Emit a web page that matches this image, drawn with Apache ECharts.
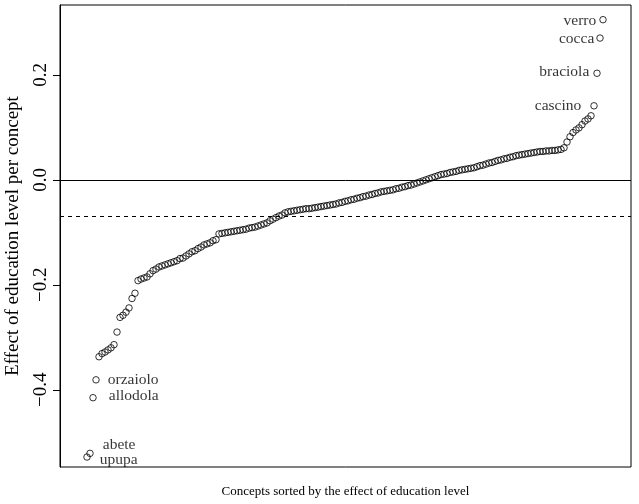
<!DOCTYPE html>
<html><head><meta charset="utf-8">
<script src="https://cdn.jsdelivr.net/npm/echarts@6/dist/echarts.min.js"></script>
<style>html,body{margin:0;padding:0;background:#fff}#c{width:639px;height:504px}</style>
</head><body><div id="c"></div>
<script>
// Effect of education level per concept, sorted ascending (one value per concept)
const effects = [
-0.528,-0.521,-0.415,-0.381,-0.337,-0.331,-0.328,-0.324,-0.320,-0.314,
-0.290,-0.262,-0.258,-0.252,-0.244,-0.226,-0.216,-0.192,-0.189,-0.187,
-0.185,-0.179,-0.173,-0.170,-0.166,-0.164,-0.162,-0.160,-0.158,-0.156,
-0.154,-0.150,-0.149,-0.145,-0.141,-0.137,-0.135,-0.131,-0.128,-0.124,
-0.122,-0.120,-0.116,-0.114,-0.103,-0.102,-0.101,-0.100,-0.099,-0.098,
-0.097,-0.096,-0.095,-0.094,-0.092,-0.091,-0.090,-0.088,-0.086,-0.084,
-0.082,-0.078,-0.075,-0.072,-0.069,-0.067,-0.063,-0.061,-0.060,-0.059,
-0.058,-0.057,-0.056,-0.055,-0.055,-0.054,-0.053,-0.052,-0.051,-0.050,
-0.049,-0.048,-0.047,-0.046,-0.044,-0.043,-0.041,-0.040,-0.038,-0.037,
-0.035,-0.034,-0.032,-0.031,-0.029,-0.028,-0.026,-0.025,-0.023,-0.022,
-0.021,-0.020,-0.019,-0.017,-0.016,-0.014,-0.013,-0.011,-0.010,-0.008,
-0.006,-0.004,-0.002,0.000,0.002,0.004,0.006,0.008,0.010,0.011,
0.012,0.014,0.015,0.016,0.018,0.019,0.020,0.021,0.022,0.023,
0.025,0.027,0.028,0.030,0.032,0.033,0.035,0.037,0.038,0.040,
0.041,0.043,0.044,0.046,0.047,0.048,0.049,0.050,0.051,0.052,
0.053,0.054,0.054,0.055,0.055,0.056,0.056,0.057,0.058,0.061,
0.072,0.082,0.090,0.095,0.099,0.105,0.112,0.116,0.122,0.141,
0.203,0.270,0.305
];
const yTicks = [-0.4, -0.2, 0, 0.2];
const zeroLine = 0;
const meanLine = -0.067;
const labelIdx = [0, 1, 2, 3, 169, 170, 171, 172];
const labelNames = ['upupa', 'abete', 'allodola', 'orzaiolo', 'cascino', 'braciola', 'cocca', 'verro'];
const xTitle = 'Concepts sorted by the effect of education level';
const yTitle = 'Effect of education level per concept';

const FONT = "'Liberation Serif','DejaVu Serif',serif";
const FS_X = 13;
const FS_Y = 19;
const FS_LAB = 15.5;
const GRID_LEFT = 60, TICK_LEN = 7;
// label placement style per labelled concept (same order as labelNames)
const labelLayout = [
  {position: 'right', distance: 9, offset: [0, 3]},
  {position: 'right', distance: 9, offset: [0, -8]},
  {position: 'right', distance: 12, offset: [0, -2]},
  {position: 'right', distance: 8, offset: [0, 0]},
  {position: 'left', distance: 9, offset: [0, 0]},
  {position: 'left', distance: 4, offset: [0, -1]},
  {position: 'left', distance: 2, offset: [0, 1]},
  {position: 'left', distance: 3, offset: [0, 1]}
];

const data = effects.map((v, i) => {
  const item = {value: [i + 1, v]};
  const j = labelIdx.indexOf(i);
  if (j >= 0) {
    item.label = Object.assign({
      show: true, formatter: labelNames[j], color: '#000',
      fontFamily: FONT, fontSize: FS_LAB
    }, labelLayout[j]);
  }
  return item;
});

const chart = echarts.init(document.getElementById('c'), null, {renderer: 'canvas'});
chart.setOption({
  animation: false,
  backgroundColor: '#fff',
  grid: {left: GRID_LEFT, top: 5, width: 571, height: 462, show: true, borderColor: '#000', borderWidth: 1,
         backgroundColor: 'transparent', containLabel: false, outerBoundsMode: 'none'},
  xAxis: {
    type: 'value', min: -8, max: 182.33,
    axisLine: {show: false, onZero: false}, axisTick: {show: false}, axisLabel: {show: false}, splitLine: {show: false},
    name: xTitle, nameLocation: 'middle', nameGap: 18,
    nameTextStyle: {color: '#000', fontFamily: FONT, fontSize: FS_X}
  },
  yAxis: {
    type: 'value', min: -0.547, max: 0.333,
    axisLine: {show: true, onZero: false, lineStyle: {color: '#000', width: 1}}, splitLine: {show: false},
    axisTick: {show: true, inside: false, length: TICK_LEN, lineStyle: {color: '#000', width: 1}, customValues: yTicks},
    axisLabel: {
      customValues: yTicks, rotate: 90, margin: 9, color: '#000', fontFamily: FONT, fontSize: FS_Y,
      formatter: v => (v < 0 ? '\u2212' : '') + Math.abs(v).toFixed(1)
    },
    name: yTitle, nameLocation: 'middle', nameRotate: 90, nameGap: 37,
    nameTextStyle: {color: '#000', fontFamily: FONT, fontSize: FS_Y}
  },
  series: [{
    type: 'scatter',
    symbol: 'circle', symbolSize: 6.5,
    itemStyle: {color: 'rgba(0,0,0,0)', borderColor: '#000', borderWidth: 1},
    data: data,
    markLine: {
      silent: true, symbol: ['none', 'none'], label: {show: false},
      lineStyle: {color: '#000', width: 1},
      data: [
        {yAxis: zeroLine, lineStyle: {type: 'solid', color: '#000', width: 1}},
        {yAxis: meanLine, lineStyle: {type: [4, 4], color: '#000', width: 1}}
      ]
    }
  }]
});

// y-axis tick marks, positioned through the axis scale
const tickEls = yTicks.map(v => {
  const py = Math.round(chart.convertToPixel({yAxisIndex: 0}, v)) + 0.5;
  return {type: 'line', silent: true,
          shape: {x1: GRID_LEFT - TICK_LEN, y1: py, x2: GRID_LEFT, y2: py},
          style: {stroke: '#000', lineWidth: 1}};
});
chart.setOption({graphic: tickEls});
</script></body></html>
